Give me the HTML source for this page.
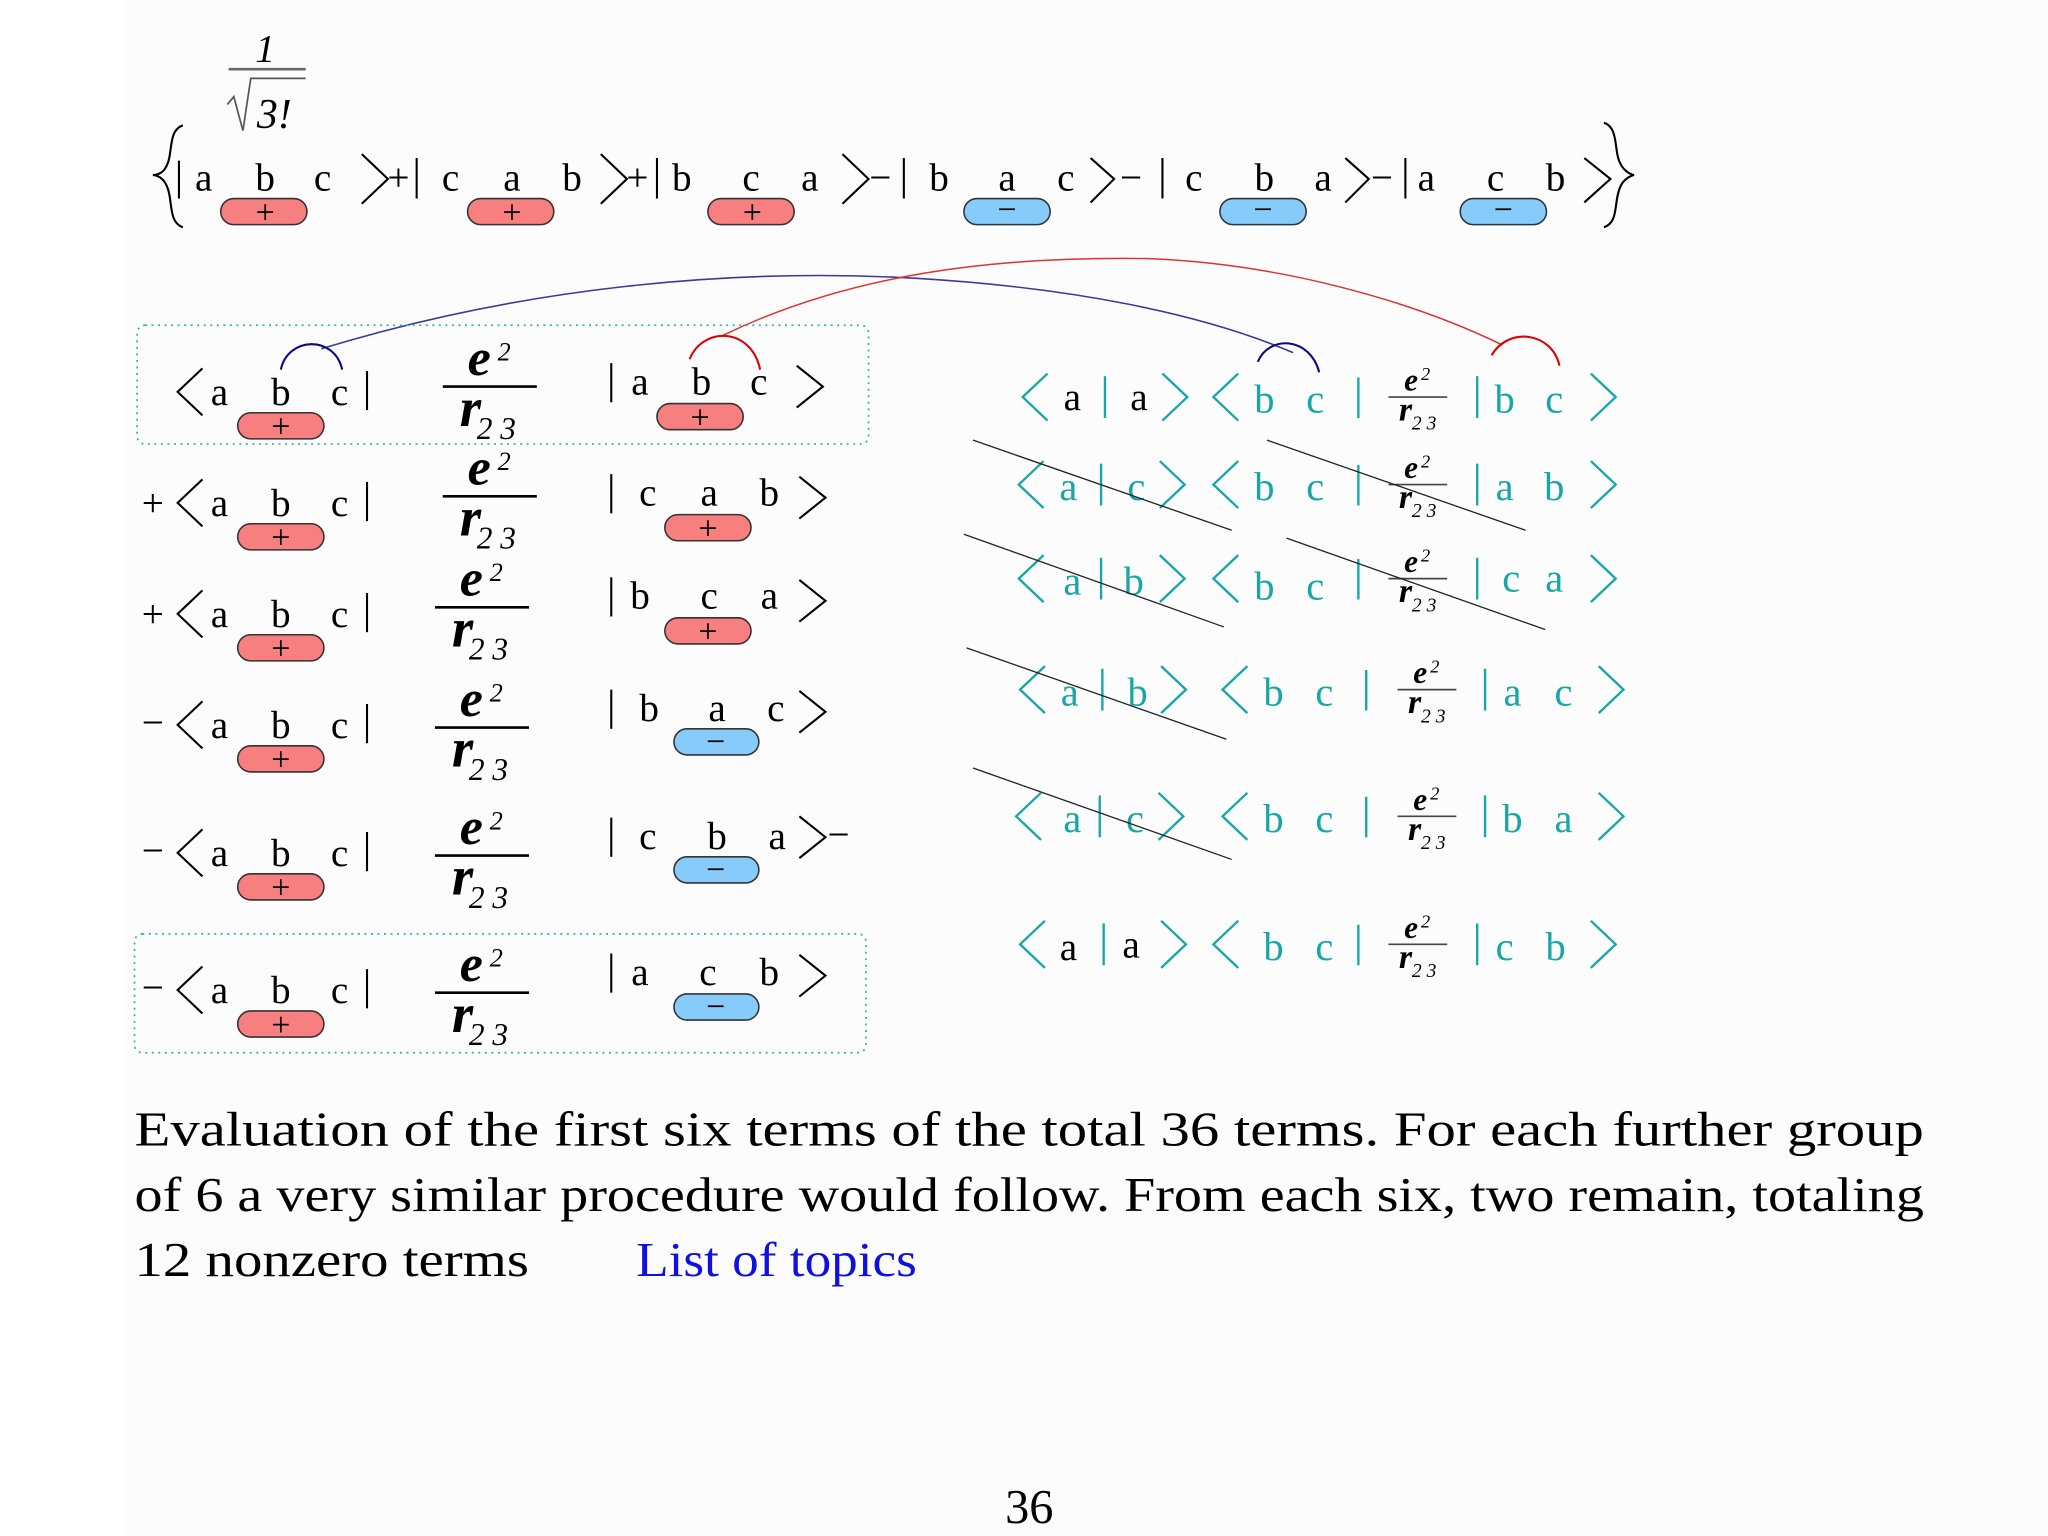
<!DOCTYPE html>
<html><head><meta charset="utf-8"><style>
html,body{margin:0;padding:0;background:#fff;}
svg{display:block;}
text{font-family:"Liberation Serif",serif;}
.m{font-size:30px;text-anchor:middle;fill:#000;}
.tl{font-size:31px;text-anchor:middle;fill:#18a6a6;}
.s{font-size:26px;text-anchor:middle;fill:#000;}
.e{font-style:italic;font-weight:bold;fill:#000;}
.br{fill:none;stroke:#000;stroke-width:1.6;}
.bt{fill:none;stroke:#18a6a6;stroke-width:1.8;}
.pr{fill:#f77f7f;stroke:#333;stroke-width:1.2;}
.pb{fill:#87cbfb;stroke:#333;stroke-width:1.2;}
.cap{font-size:37px;fill:#000;}
</style></head><body>
<svg width="2048" height="1536" viewBox="0 0 1568 1176" xmlns="http://www.w3.org/2000/svg">
<rect x="0" y="0" width="1568" height="1176" fill="#fff"/>
<rect x="95" y="0" width="1473" height="1176" fill="#fcfcfc"/>

<!-- 1/sqrt(3!) -->
<text x="203" y="47" font-size="30" font-style="italic" text-anchor="middle">1</text>
<line x1="175" y1="53" x2="234" y2="53" stroke="#666" stroke-width="2"/>
<polyline points="174,80 179,74 186,100 192,60 234,60" fill="none" stroke="#555" stroke-width="1.3"/>
<text x="210" y="98" font-size="32" font-style="italic" text-anchor="middle">3!</text>

<!-- top row -->
<path d="M140,96 C128,100 133,118 127,128 C125,132 121,134 117,134 C121,134 125,137 127,141 C133,152 128,170 140,174" class="br" stroke-width="1.2"/>
<path d="M1228,94 C1240,98 1235,116 1241,126 C1243,130 1247,133 1251,134 C1247,135 1243,138 1241,142 C1235,154 1240,170 1228,174" class="br" stroke-width="1.2"/>
<line x1="137" y1="123" x2="137" y2="152" class="br"/>
<text class="m" x="156" y="146">a</text><text class="m" x="203" y="146">b</text><text class="m" x="247" y="146">c</text>
<polyline class="br" points="277,118 297,137 277,156"/>
<text class="m" x="305" y="146">+</text>
<line x1="319" y1="121" x2="319" y2="152" class="br"/>
<text class="m" x="345" y="146">c</text><text class="m" x="392" y="146">a</text><text class="m" x="438" y="146">b</text>
<polyline class="br" points="460,118 480,137 460,156"/>
<text class="m" x="488" y="146">+</text>
<line x1="503" y1="121" x2="503" y2="152" class="br"/>
<text class="m" x="522" y="146">b</text><text class="m" x="575" y="146">c</text><text class="m" x="620" y="146">a</text>
<polyline class="br" points="645,118 665,137 645,156"/>
<text class="m" x="674" y="146">−</text>
<line x1="692" y1="121" x2="692" y2="152" class="br"/>
<text class="m" x="719" y="146">b</text><text class="m" x="771" y="146">a</text><text class="m" x="816" y="146">c</text>
<polyline class="br" points="835,121 853,137 835,155"/>
<text class="m" x="866" y="146">−</text>
<line x1="890" y1="121" x2="890" y2="152" class="br"/>
<text class="m" x="914" y="146">c</text><text class="m" x="968" y="146">b</text><text class="m" x="1013" y="146">a</text>
<polyline class="br" points="1030,121 1048,137 1030,155"/>
<text class="m" x="1058" y="146">−</text>
<line x1="1076" y1="121" x2="1076" y2="152" class="br"/>
<text class="m" x="1092" y="146">a</text><text class="m" x="1145" y="146">c</text><text class="m" x="1191" y="146">b</text>
<polyline class="br" points="1213,121 1233,137 1213,155"/>

<rect class="pr" x="169" y="152" width="66" height="20" rx="10"/><text class="s" x="203" y="171">+</text>
<rect class="pr" x="358" y="152" width="66" height="20" rx="10"/><text class="s" x="392" y="171">+</text>
<rect class="pr" x="542" y="152" width="66" height="20" rx="10"/><text class="s" x="576" y="171">+</text>
<rect class="pb" x="738" y="152" width="66" height="20" rx="10"/><text class="s" x="771" y="169">−</text>
<rect class="pb" x="934" y="152" width="66" height="20" rx="10"/><text class="s" x="967" y="169">−</text>
<rect class="pb" x="1118" y="152" width="66" height="20" rx="10"/><text class="s" x="1151" y="169">−</text>

<!-- connectors -->
<path d="M246,267 C400,220 560,205 700,213 C820,220 920,240 990,270" fill="none" stroke="#3a3a9a" stroke-width="1.2"/>
<path d="M553,257 C650,210 760,196 880,198 C980,202 1080,230 1150,264" fill="none" stroke="#e03030" stroke-width="1.1"/>
<path d="M215,283 C220,258 256,256 262,283" fill="none" stroke="#0a0a80" stroke-width="1.6"/>
<path d="M528,275 C538,250 575,250 582,283" fill="none" stroke="#e00000" stroke-width="1.6"/>
<path d="M963,277 C972,256 1003,258 1010,285" fill="none" stroke="#0a0a80" stroke-width="1.6"/>
<path d="M1142,272 C1155,250 1188,254 1194,280" fill="none" stroke="#e00000" stroke-width="1.6"/>

<!-- boxes -->
<rect x="105" y="249" width="560" height="91" rx="6" fill="none" stroke="#30b0a8" stroke-width="1.3" stroke-dasharray="1.5,3.5"/>
<rect x="103" y="715" width="560" height="91" rx="6" fill="none" stroke="#30b0a8" stroke-width="1.3" stroke-dasharray="1.5,3.5"/>

<!-- left rows -->
<g>
<!-- row1 -->
<polyline class="br" points="155,282 136,300 155,318"/>
<text class="m" x="168" y="310">a</text><text class="m" x="215" y="310">b</text><text class="m" x="260" y="310">c</text>
<line x1="281" y1="284" x2="281" y2="314" class="br"/>
<rect class="pr" x="182" y="316" width="66" height="20" rx="10"/><text class="s" x="215" y="335">+</text>
<text class="e" x="358" y="287" font-size="40">e</text><text x="381" y="276" font-size="20" font-style="italic">2</text>
<line x1="339" y1="296" x2="411" y2="296" stroke="#000" stroke-width="2"/>
<text class="e" x="352" y="326" font-size="42">r</text><text x="365" y="336" font-size="24" font-style="italic">2 3</text>
<line x1="468" y1="278" x2="468" y2="308" class="br"/>
<text class="m" x="490" y="302">a</text><text class="m" x="537" y="302">b</text><text class="m" x="581" y="302">c</text>
<rect class="pr" x="503" y="309" width="66" height="20" rx="10"/><text class="s" x="536" y="328">+</text>
<polyline class="br" points="610,280 630,296 610,312"/>
<!-- row2 -->
<text class="m" x="117" y="395">+</text>
<polyline class="br" points="155,367 136,385 155,403"/>
<text class="m" x="168" y="395">a</text><text class="m" x="215" y="395">b</text><text class="m" x="260" y="395">c</text>
<line x1="281" y1="369" x2="281" y2="399" class="br"/>
<rect class="pr" x="182" y="401" width="66" height="20" rx="10"/><text class="s" x="215" y="420">+</text>
<text class="e" x="358" y="371" font-size="40">e</text><text x="381" y="360" font-size="20" font-style="italic">2</text>
<line x1="339" y1="380" x2="411" y2="380" stroke="#000" stroke-width="2"/>
<text class="e" x="352" y="410" font-size="42">r</text><text x="365" y="420" font-size="24" font-style="italic">2 3</text>
<line x1="468" y1="363" x2="468" y2="393" class="br"/>
<text class="m" x="496" y="387">c</text><text class="m" x="543" y="387">a</text><text class="m" x="589" y="387">b</text>
<rect class="pr" x="509" y="394" width="66" height="20" rx="10"/><text class="s" x="542" y="413">+</text>
<polyline class="br" points="612,365 632,381 612,397"/>
<!-- row3 -->
<text class="m" x="117" y="480">+</text>
<polyline class="br" points="155,452 136,470 155,488"/>
<text class="m" x="168" y="480">a</text><text class="m" x="215" y="480">b</text><text class="m" x="260" y="480">c</text>
<line x1="281" y1="454" x2="281" y2="484" class="br"/>
<rect class="pr" x="182" y="486" width="66" height="20" rx="10"/><text class="s" x="215" y="505">+</text>
<text class="e" x="352" y="456" font-size="40">e</text><text x="375" y="445" font-size="20" font-style="italic">2</text>
<line x1="333" y1="465" x2="405" y2="465" stroke="#000" stroke-width="2"/>
<text class="e" x="346" y="495" font-size="42">r</text><text x="359" y="505" font-size="24" font-style="italic">2 3</text>
<line x1="468" y1="442" x2="468" y2="472" class="br"/>
<text class="m" x="490" y="466">b</text><text class="m" x="543" y="466">c</text><text class="m" x="589" y="466">a</text>
<rect class="pr" x="509" y="473" width="66" height="20" rx="10"/><text class="s" x="542" y="492">+</text>
<polyline class="br" points="612,444 632,460 612,476"/>
<!-- row4 -->
<text class="m" x="117" y="563">−</text>
<polyline class="br" points="155,537 136,555 155,573"/>
<text class="m" x="168" y="565">a</text><text class="m" x="215" y="565">b</text><text class="m" x="260" y="565">c</text>
<line x1="281" y1="539" x2="281" y2="569" class="br"/>
<rect class="pr" x="182" y="571" width="66" height="20" rx="10"/><text class="s" x="215" y="590">+</text>
<text class="e" x="352" y="548" font-size="40">e</text><text x="375" y="537" font-size="20" font-style="italic">2</text>
<line x1="333" y1="557" x2="405" y2="557" stroke="#000" stroke-width="2"/>
<text class="e" x="346" y="587" font-size="42">r</text><text x="359" y="597" font-size="24" font-style="italic">2 3</text>
<line x1="468" y1="528" x2="468" y2="558" class="br"/>
<text class="m" x="497" y="552">b</text><text class="m" x="549" y="552">a</text><text class="m" x="594" y="552">c</text>
<rect class="pb" x="516" y="558" width="65" height="20" rx="10"/><text class="s" x="548" y="576">−</text>
<polyline class="br" points="612,529 632,545 612,561"/>
<!-- row5 -->
<text class="m" x="117" y="661">−</text>
<polyline class="br" points="155,635 136,653 155,671"/>
<text class="m" x="168" y="663">a</text><text class="m" x="215" y="663">b</text><text class="m" x="260" y="663">c</text>
<line x1="281" y1="637" x2="281" y2="667" class="br"/>
<rect class="pr" x="182" y="669" width="66" height="20" rx="10"/><text class="s" x="215" y="688">+</text>
<text class="e" x="352" y="646" font-size="40">e</text><text x="375" y="635" font-size="20" font-style="italic">2</text>
<line x1="333" y1="655" x2="405" y2="655" stroke="#000" stroke-width="2"/>
<text class="e" x="346" y="685" font-size="42">r</text><text x="359" y="695" font-size="24" font-style="italic">2 3</text>
<line x1="468" y1="626" x2="468" y2="656" class="br"/>
<text class="m" x="496" y="650">c</text><text class="m" x="549" y="650">b</text><text class="m" x="595" y="650">a</text>
<rect class="pb" x="516" y="656" width="65" height="20" rx="10"/><text class="s" x="548" y="674">−</text>
<polyline class="br" points="612,625 632,641 612,657"/>
<text class="m" x="642" y="649">−</text>
<!-- row6 -->
<text class="m" x="117" y="766">−</text>
<polyline class="br" points="155,740 136,758 155,776"/>
<text class="m" x="168" y="768">a</text><text class="m" x="215" y="768">b</text><text class="m" x="260" y="768">c</text>
<line x1="281" y1="742" x2="281" y2="772" class="br"/>
<rect class="pr" x="182" y="774" width="66" height="20" rx="10"/><text class="s" x="215" y="793">+</text>
<text class="e" x="352" y="751" font-size="40">e</text><text x="375" y="740" font-size="20" font-style="italic">2</text>
<line x1="333" y1="760" x2="405" y2="760" stroke="#000" stroke-width="2"/>
<text class="e" x="346" y="790" font-size="42">r</text><text x="359" y="800" font-size="24" font-style="italic">2 3</text>
<line x1="468" y1="730" x2="468" y2="760" class="br"/>
<text class="m" x="490" y="754">a</text><text class="m" x="542" y="754">c</text><text class="m" x="589" y="754">b</text>
<rect class="pb" x="516" y="761" width="65" height="20" rx="10"/><text class="s" x="548" y="779">−</text>
<polyline class="br" points="612,731 632,747 612,763"/>
</g>

<!-- right rows -->
<g>
<!-- r1 y304 -->
<polyline class="bt" points="802,286 783,304 802,322"/>
<text class="m" x="821" y="314">a</text><line x1="846" y1="288" x2="846" y2="320" class="bt"/><text class="m" x="872" y="314">a</text>
<polyline class="bt" points="890,286 909,304 890,322"/>
<polyline class="bt" points="948,286 929,304 948,322"/>
<text class="tl" x="968" y="316">b</text><text class="tl" x="1007" y="316">c</text>
<line x1="1040" y1="289" x2="1040" y2="320" class="bt"/>
<text class="e" x="1075" y="299" font-size="24" font-weight="normal">e</text><text x="1088" y="291" font-size="14" font-style="italic">2</text>
<line x1="1063" y1="304" x2="1108" y2="304" stroke="#444" stroke-width="1.3"/>
<text class="e" x="1071" y="322" font-size="26">r</text><text x="1081" y="329" font-size="15" font-style="italic">2 3</text>
<line x1="1131" y1="288" x2="1131" y2="320" class="bt"/>
<text class="tl" x="1152" y="316">b</text><text class="tl" x="1190" y="316">c</text>
<polyline class="bt" points="1218,286 1237,304 1218,322"/>
<!-- r2 y371 -->
<polyline class="bt" points="799,353 780,371 799,389"/>
<text class="tl" x="818" y="383">a</text><line x1="843" y1="355" x2="843" y2="387" class="bt"/><text class="tl" x="870" y="383">c</text>
<polyline class="bt" points="888,353 907,371 888,389"/>
<polyline class="bt" points="948,353 929,371 948,389"/>
<text class="tl" x="968" y="383">b</text><text class="tl" x="1007" y="383">c</text>
<line x1="1040" y1="356" x2="1040" y2="387" class="bt"/>
<text class="e" x="1075" y="366" font-size="24" font-weight="normal">e</text><text x="1088" y="358" font-size="14" font-style="italic">2</text>
<line x1="1063" y1="371" x2="1108" y2="371" stroke="#444" stroke-width="1.3"/>
<text class="e" x="1071" y="389" font-size="26">r</text><text x="1081" y="396" font-size="15" font-style="italic">2 3</text>
<line x1="1131" y1="355" x2="1131" y2="387" class="bt"/>
<text class="tl" x="1152" y="383">a</text><text class="tl" x="1190" y="383">b</text>
<polyline class="bt" points="1218,353 1237,371 1218,389"/>
<!-- r3 y443 -->
<polyline class="bt" points="799,425 780,443 799,461"/>
<text class="tl" x="821" y="455">a</text><line x1="843" y1="427" x2="843" y2="459" class="bt"/><text class="tl" x="868" y="455">b</text>
<polyline class="bt" points="888,425 907,443 888,461"/>
<polyline class="bt" points="948,425 929,443 948,461"/>
<text class="tl" x="968" y="459">b</text><text class="tl" x="1007" y="459">c</text>
<line x1="1040" y1="428" x2="1040" y2="459" class="bt"/>
<text class="e" x="1075" y="438" font-size="24" font-weight="normal">e</text><text x="1088" y="430" font-size="14" font-style="italic">2</text>
<line x1="1063" y1="443" x2="1108" y2="443" stroke="#444" stroke-width="1.3"/>
<text class="e" x="1071" y="461" font-size="26">r</text><text x="1081" y="468" font-size="15" font-style="italic">2 3</text>
<line x1="1131" y1="427" x2="1131" y2="459" class="bt"/>
<text class="tl" x="1157" y="453">c</text><text class="tl" x="1190" y="453">a</text>
<polyline class="bt" points="1218,425 1237,443 1218,461"/>
<!-- r4 y528 -->
<polyline class="bt" points="800,510 781,528 800,546"/>
<text class="tl" x="819" y="540">a</text><line x1="844" y1="512" x2="844" y2="544" class="bt"/><text class="tl" x="871" y="540">b</text>
<polyline class="bt" points="889,510 908,528 889,546"/>
<polyline class="bt" points="955,510 936,528 955,546"/>
<text class="tl" x="975" y="540">b</text><text class="tl" x="1014" y="540">c</text>
<line x1="1046" y1="513" x2="1046" y2="544" class="bt"/>
<text class="e" x="1082" y="523" font-size="24" font-weight="normal">e</text><text x="1095" y="515" font-size="14" font-style="italic">2</text>
<line x1="1070" y1="528" x2="1115" y2="528" stroke="#444" stroke-width="1.3"/>
<text class="e" x="1078" y="546" font-size="26">r</text><text x="1088" y="553" font-size="15" font-style="italic">2 3</text>
<line x1="1137" y1="512" x2="1137" y2="544" class="bt"/>
<text class="tl" x="1158" y="540">a</text><text class="tl" x="1197" y="540">c</text>
<polyline class="bt" points="1224,510 1243,528 1224,546"/>
<!-- r5 y625 -->
<polyline class="bt" points="797,607 778,625 797,643"/>
<text class="tl" x="821" y="637">a</text><line x1="842" y1="609" x2="842" y2="641" class="bt"/><text class="tl" x="869" y="637">c</text>
<polyline class="bt" points="887,607 906,625 887,643"/>
<polyline class="bt" points="955,607 936,625 955,643"/>
<text class="tl" x="975" y="637">b</text><text class="tl" x="1014" y="637">c</text>
<line x1="1046" y1="610" x2="1046" y2="641" class="bt"/>
<text class="e" x="1082" y="620" font-size="24" font-weight="normal">e</text><text x="1095" y="612" font-size="14" font-style="italic">2</text>
<line x1="1070" y1="625" x2="1115" y2="625" stroke="#444" stroke-width="1.3"/>
<text class="e" x="1078" y="643" font-size="26">r</text><text x="1088" y="650" font-size="15" font-style="italic">2 3</text>
<line x1="1137" y1="609" x2="1137" y2="641" class="bt"/>
<text class="tl" x="1158" y="637">b</text><text class="tl" x="1197" y="637">a</text>
<polyline class="bt" points="1224,607 1243,625 1224,643"/>
<!-- r6 y723 -->
<polyline class="bt" points="800,705 781,723 800,741"/>
<text class="m" x="818" y="735">a</text><line x1="845" y1="707" x2="845" y2="739" class="bt"/><text class="m" x="866" y="733">a</text>
<polyline class="bt" points="889,705 908,723 889,741"/>
<polyline class="bt" points="948,705 929,723 948,741"/>
<text class="tl" x="975" y="735">b</text><text class="tl" x="1014" y="735">c</text>
<line x1="1040" y1="708" x2="1040" y2="739" class="bt"/>
<text class="e" x="1075" y="718" font-size="24" font-weight="normal">e</text><text x="1088" y="710" font-size="14" font-style="italic">2</text>
<line x1="1063" y1="723" x2="1108" y2="723" stroke="#444" stroke-width="1.3"/>
<text class="e" x="1071" y="741" font-size="26">r</text><text x="1081" y="748" font-size="15" font-style="italic">2 3</text>
<line x1="1131" y1="707" x2="1131" y2="739" class="bt"/>
<text class="tl" x="1152" y="735">c</text><text class="tl" x="1191" y="735">b</text>
<polyline class="bt" points="1218,705 1237,723 1218,741"/>
</g>

<!-- strike lines -->
<g stroke="#222" stroke-width="1">
<line x1="745" y1="337" x2="943" y2="406"/>
<line x1="970" y1="337" x2="1168" y2="406"/>
<line x1="738" y1="409" x2="937" y2="480"/>
<line x1="985" y1="412" x2="1183" y2="482"/>
<line x1="740" y1="496" x2="939" y2="566"/>
<line x1="745" y1="588" x2="943" y2="658"/>
</g>

<!-- caption -->
<text class="cap" x="103" y="877" textLength="1370" lengthAdjust="spacingAndGlyphs">Evaluation of the first six terms of the total 36 terms. For each further group</text>
<text class="cap" x="103" y="927" textLength="1370" lengthAdjust="spacingAndGlyphs">of 6 a very similar procedure would follow. From each six, two remain, totaling</text>
<text class="cap" x="103" y="977" textLength="302" lengthAdjust="spacingAndGlyphs">12 nonzero terms</text>
<text class="cap" x="487" y="977" fill="#1010e0" style="fill:#1010e0" textLength="215" lengthAdjust="spacingAndGlyphs">List of topics</text>
<text class="cap" x="788" y="1166" text-anchor="middle">36</text>
</svg>
</body></html>
